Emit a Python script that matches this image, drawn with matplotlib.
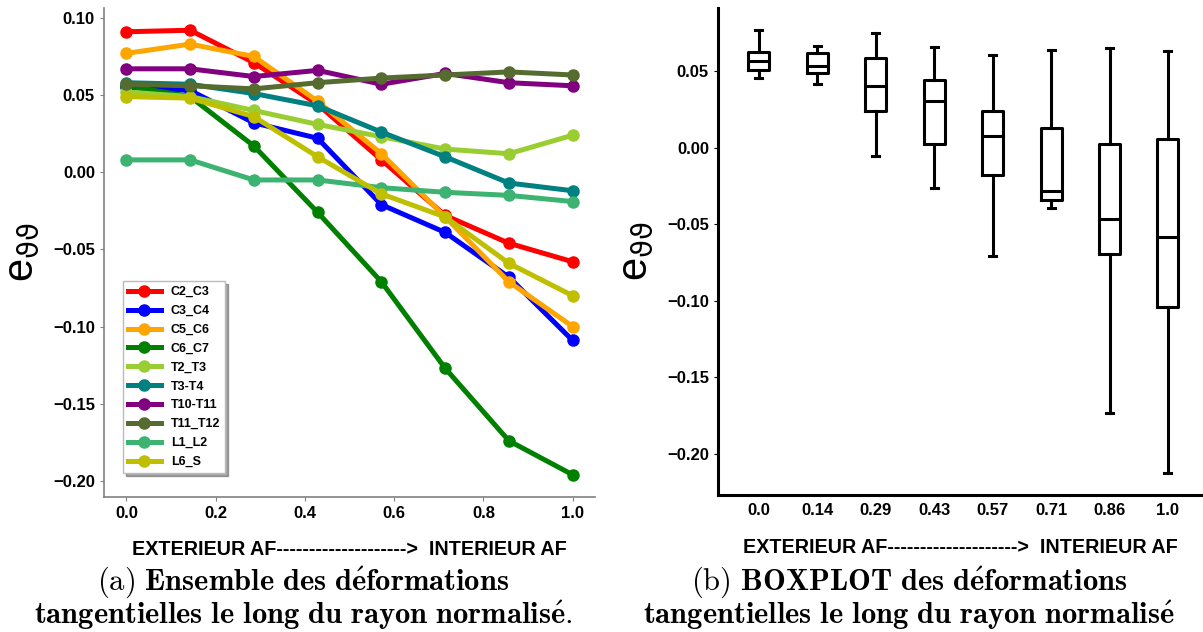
import matplotlib
matplotlib.use("Agg")
import matplotlib.pyplot as plt

# positions le long du rayon normalisé
rayon = [0.0, 1/7, 2/7, 3/7, 4/7, 5/7, 6/7, 1.0]

noms = ["C2_C3", "C3_C4", "C5_C6", "C6_C7", "T2_T3",
        "T3-T4", "T10-T11", "T11_T12", "L1_L2", "L6_S"]
couleurs = ["red", "blue", "orange", "green", "yellowgreen",
            "teal", "purple", "darkolivegreen", "mediumseagreen", "y"]

c2_c3 = [0.091, 0.092, 0.071, 0.044, 0.008, -0.028, -0.046, -0.058]
c3_c4 = [0.055, 0.053, 0.032, 0.022, -0.021, -0.039, -0.068, -0.109]
c5_c6 = [0.077, 0.083, 0.075, 0.046, 0.012, -0.029, -0.071, -0.100]
c6_c7 = [0.056, 0.049, 0.017, -0.026, -0.071, -0.127, -0.174, -0.196]
t2_t3 = [0.052, 0.049, 0.040, 0.031, 0.023, 0.015, 0.012, 0.024]
t3_t4 = [0.058, 0.057, 0.051, 0.043, 0.026, 0.010, -0.007, -0.012]
t10_t11 = [0.067, 0.067, 0.062, 0.066, 0.057, 0.064, 0.058, 0.056]
t11_t12 = [0.057, 0.056, 0.054, 0.058, 0.061, 0.063, 0.065, 0.063]
l1_l2 = [0.008, 0.008, -0.005, -0.005, -0.010, -0.013, -0.015, -0.019]
l6_s = [0.049, 0.048, 0.036, 0.010, -0.014, -0.029, -0.059, -0.080]
series = [c2_c3, c3_c4, c5_c6, c6_c7, t2_t3, t3_t4, t10_t11, t11_t12, l1_l2, l6_s]

# statistiques des boxplots
etiquettes_box = ["0.0", "0.14", "0.29", "0.43", "0.57", "0.71", "0.86", "1.0"]
moustache_bas = [0.0454, 0.0415, -0.0054, -0.0261, -0.0707, -0.0393, -0.1735, -0.2124]
quartile_1 = [0.0511, 0.0489, 0.0243, 0.0024, -0.0180, -0.0343, -0.0696, -0.1043]
mediane = [0.0567, 0.0533, 0.0402, 0.0307, 0.0080, -0.0283, -0.0463, -0.0580]
quartile_3 = [0.0624, 0.0620, 0.0587, 0.0446, 0.0241, 0.0128, 0.0024, 0.0059]
moustache_haut = [0.0770, 0.0667, 0.0754, 0.0657, 0.0609, 0.0639, 0.0652, 0.0633]

plt.rcParams["font.family"] = ["Liberation Sans", "DejaVu Sans"]
plt.rcParams["axes.unicode_minus"] = True

W, H = 1203, 632
fig = plt.figure(figsize=(W / 100, H / 100), dpi=100)

xlabel = "EXTERIEUR AF-------------------->  INTERIEUR AF"
ylabel = r"e$_{\mathrm{\vartheta\vartheta}}$"

# ---- (a) courbes ----
ax1 = fig.add_axes([104 / W, 1 - 497 / H, 491 / W, 489 / H])
for nom, coul, vals in zip(noms, couleurs, series):
    ax1.plot(rayon, vals, "-o", color=coul, lw=3.6, ms=8, label=nom)
for s in ["top", "right"]:
    ax1.spines[s].set_visible(False)
for s in ["left", "bottom"]:
    ax1.spines[s].set_color("#808080")
    ax1.spines[s].set_linewidth(1.2)
ax1.tick_params(colors="#808080", labelcolor="black", labelsize=12, length=3)
ax1.set_xticks([0.0, 0.2, 0.4, 0.6, 0.8, 1.0])
ax1.set_yticks([0.10, 0.05, 0.00, -0.05, -0.10, -0.15, -0.20])
for lab in ax1.get_xticklabels() + ax1.get_yticklabels():
    lab.set_fontweight("bold")
ax1.set_xlabel(xlabel, fontsize=14.2, fontweight="bold", labelpad=14)
ax1.set_ylabel(ylabel, fontsize=30, labelpad=8)
leg = ax1.legend(loc="lower left", bbox_to_anchor=(0.039, 0.049), borderaxespad=0,
                 fontsize=9, handlelength=2.6, shadow=True, fancybox=False,
                 framealpha=1, edgecolor="#bbbbbb", labelspacing=0.55)
for t in leg.get_texts():
    t.set_fontweight("bold")

# ---- (b) boxplot ----
ax2 = fig.add_axes([718 / W, 1 - 495 / H, 485 / W, 487 / H])
stats = []
for i in range(len(etiquettes_box)):
    stats.append({"whislo": moustache_bas[i], "q1": quartile_1[i], "med": mediane[i],
                  "q3": quartile_3[i], "whishi": moustache_haut[i], "fliers": []})
k = dict(color="black", lw=2.2)
ax2.bxp(stats, positions=range(1, 9), widths=0.36, capwidths=0.12, showfliers=False,
        boxprops=k, whiskerprops=k, capprops=k, medianprops=k)
ax2.set_xlim(0.3, 8.6)
ax2.set_xticks(range(1, 9))
ax2.set_xticklabels(etiquettes_box)
ax2.set_yticks([0.05, 0.00, -0.05, -0.10, -0.15, -0.20])
for s in ["top", "right"]:
    ax2.spines[s].set_visible(False)
for s in ["left", "bottom"]:
    ax2.spines[s].set_linewidth(2.2)
ax2.tick_params(labelsize=12, length=3)
ax2.tick_params(axis="x", length=0, pad=6)
for lab in ax2.get_xticklabels() + ax2.get_yticklabels():
    lab.set_fontweight("bold")
ax2.set_xlabel(xlabel, fontsize=14.2, fontweight="bold", labelpad=14)
ax2.set_ylabel(ylabel, fontsize=30, labelpad=8)

# ---- légendes des sous-figures ----
fs = 22
cap1 = r"$\mathrm{(a)}\ \mathbf{Ensemble\ des\ d\acute{e}formations}$"
cap2 = r"$\mathbf{tangentielles\ le\ long\ du\ rayon\ normalis\acute{e}.}$"
cap3 = r"$\mathrm{(b)}\ \mathbf{BOXPLOT\ des\ d\acute{e}formations}$"
cap4 = r"$\mathbf{tangentielles\ le\ long\ du\ rayon\ normalis\acute{e}}$"
for cx, l1, l2 in [(303, cap1, cap2), (909, cap3, cap4)]:
    fig.text(cx / W, 1 - 590 / H, l1, fontsize=fs, math_fontfamily="cm",
             ha="center", va="baseline")
    fig.text(cx / W, 1 - 624 / H, l2, fontsize=fs, math_fontfamily="cm",
             ha="center", va="baseline")

fig.savefig("out.png", dpi=100)
